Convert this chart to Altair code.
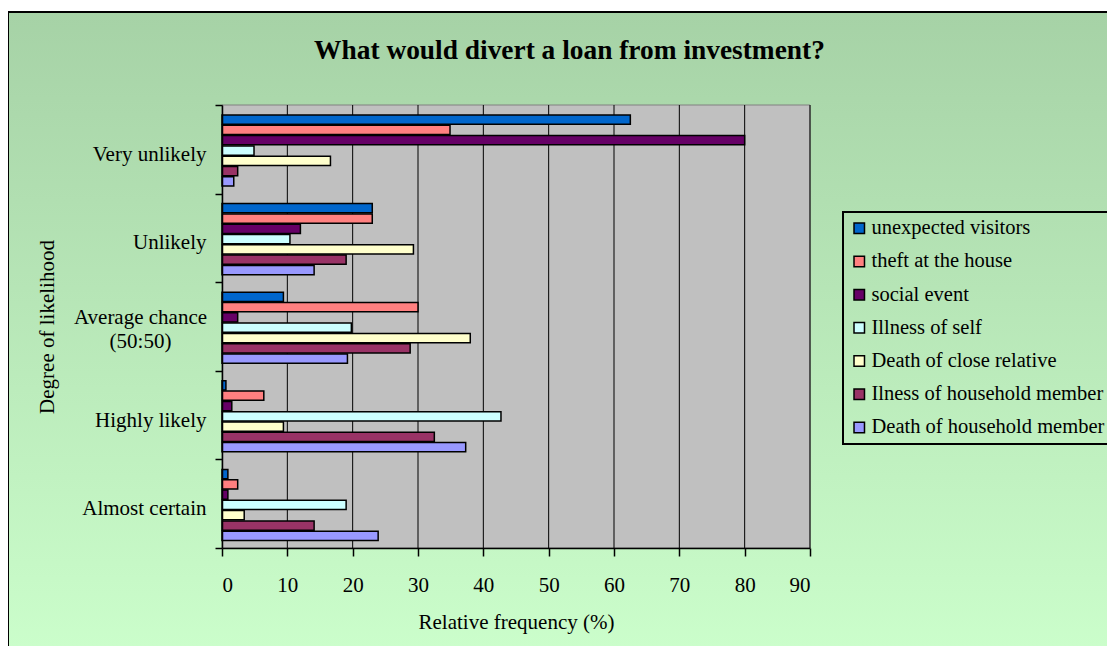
import altair as alt
import pandas as pd

CATEGORIES = ["Very unlikely", "Unlikely", "Average chance (50:50)", "Highly likely", "Almost certain"]
SERIES = [
    "unexpected visitors",
    "theft at the house",
    "social event",
    "Illness of self",
    "Death of close relative",
    "Ilness of household member",
    "Death of household member",
]
COLORS = ["#0066CC", "#FF8080", "#660066", "#CCFFFF", "#FFFFCC", "#993366", "#9999FF"]

unexpected_visitors = [62.5, 23.0, 9.4, 0.6, 0.9]
theft_at_the_house = [34.9, 23.0, 30.0, 6.4, 2.4]
social_event = [80.0, 12.0, 2.4, 1.5, 0.9]
illness_of_self = [4.9, 10.4, 19.8, 42.7, 19.0]
death_of_close_relative = [16.6, 29.3, 38.0, 9.4, 3.4]
ilness_of_household_member = [2.4, 19.0, 28.8, 32.5, 14.1]
death_of_household_member = [1.8, 14.1, 19.2, 37.3, 23.9]

X_TICKS = [0, 10, 20, 30, 40, 50, 60, 70, 80, 90]
GRID_LINES = [10, 20, 30, 40, 50, 60, 70, 80, 90]
TITLE = "What would divert a loan from investment?"
X_TITLE = "Relative frequency (%)"
Y_TITLE = "Degree of likelihood"

series_values = [
    unexpected_visitors,
    theft_at_the_house,
    social_event,
    illness_of_self,
    death_of_close_relative,
    ilness_of_household_member,
    death_of_household_member,
]
rows = []
for s, vals in zip(SERIES, series_values):
    for c, v in zip(CATEGORIES, vals):
        rows.append({"category": c, "series": s, "value": v})
df = pd.DataFrame(rows)

W, H = 588, 443
FONT = "Liberation Serif"
AVG_TEST = "datum.value == 'Average chance (50:50)'"

xscale = alt.Scale(domain=[0, 90], nice=False, zero=True)


def x_axis():
    return alt.Axis(
        values=X_TICKS,
        format="d",
        title=X_TITLE,
        grid=False,
        tickSize=8,
        labelPadding=18,
        titleX=W / 2,
        titleY=63,
        zindex=1,
    )


bg = alt.Chart(alt.Data(values=[{}])).mark_rect(
    fill={
        "gradient": "linear",
        "x1": 0, "y1": 0, "x2": 0, "y2": 1,
        "stops": [
            {"offset": 0, "color": "#a6d2a6"},
            {"offset": 1, "color": "#ccffcc"},
        ],
    },
    stroke="black",
    strokeWidth=2,
).encode(
    x=alt.value(-214), x2=alt.value(900), y=alt.value(-93), y2=alt.value(560)
)

plot_bg = alt.Chart(alt.Data(values=[{}])).mark_rect(
    fill="#c0c0c0", stroke="#808080", strokeWidth=1
).encode(x=alt.value(0), x2=alt.value(W), y=alt.value(0), y2=alt.value(H))

grid = alt.Chart(pd.DataFrame({"value": GRID_LINES})).mark_rule(
    color="black", strokeWidth=1
).encode(x=alt.X("value:Q", scale=xscale, axis=x_axis()))

bars = alt.Chart(df).mark_bar(stroke="black", strokeWidth=1.5).encode(
    x=alt.X("value:Q", scale=xscale, axis=x_axis()),
    y=alt.Y(
        "category:N",
        sort=CATEGORIES,
        scale=alt.Scale(domain=CATEGORIES, paddingInner=0, paddingOuter=0),
        axis=alt.Axis(
            title=Y_TITLE,
            tickBand="extent",
            tickSize=7,
            labelLimit=400,
            labelLineHeight=24,
            labelAlign={"condition": {"test": AVG_TEST, "value": "center"}, "value": "right"},
            labelPadding={"condition": {"test": AVG_TEST, "value": 75}, "value": 9},
            labelOffset={"condition": {"test": AVG_TEST, "value": -9}, "value": 5},
            labelExpr="datum.value == 'Average chance (50:50)' ? ['Average chance', '(50:50)'] : datum.label",
            titleX=-175,
            titleY=H / 2,
            titleBaseline="middle",
            zindex=1,
        ),
    ),
    yOffset=alt.YOffset(
        "series:N",
        sort=SERIES,
        scale=alt.Scale(domain=SERIES, paddingInner=0.1, paddingOuter=0.85, align=0.57),
    ),
    color=alt.Color(
        "series:N",
        sort=SERIES,
        scale=alt.Scale(domain=SERIES, range=COLORS),
        legend=alt.Legend(
            title=None,
            orient="none",
            legendX=621,
            legendY=107,
            strokeColor="black",
            padding=6,
            symbolType="square",
            symbolSize=110,
            symbolStrokeColor="black",
            symbolStrokeWidth=1.5,
            labelFont=FONT,
            labelFontSize=20.5,
            labelColor="black",
            labelLimit=0,
            labelOffset=2,
            rowPadding=12.2,
            zindex=1,
        ),
    ),
)

title = alt.Chart(alt.Data(values=[{"t": TITLE}])).mark_text(
    font=FONT, fontSize=27.4, fontWeight="bold", color="black",
    align="center", baseline="alphabetic",
).encode(x=alt.value(347.5), y=alt.value(-45.7), text="t:N")

chart = alt.layer(bg, plot_bg, grid, bars, title).properties(
    width=W,
    height=H,
    autosize=alt.AutoSizeParams(type="none"),
    padding={"left": 214, "top": 97, "right": 297, "bottom": 98},
).configure_view(strokeWidth=0).configure_axis(
    labelFont=FONT,
    labelFontSize=21,
    labelColor="black",
    titleFont=FONT,
    titleFontSize=21,
    titleFontWeight="normal",
    titleColor="black",
    domainColor="black",
    domainWidth=1.5,
    tickColor="black",
    tickWidth=1.5,
).configure_legend(strokeWidth=2)

chart.save("out.html", embed_options={"renderer": "svg", "actions": False})
